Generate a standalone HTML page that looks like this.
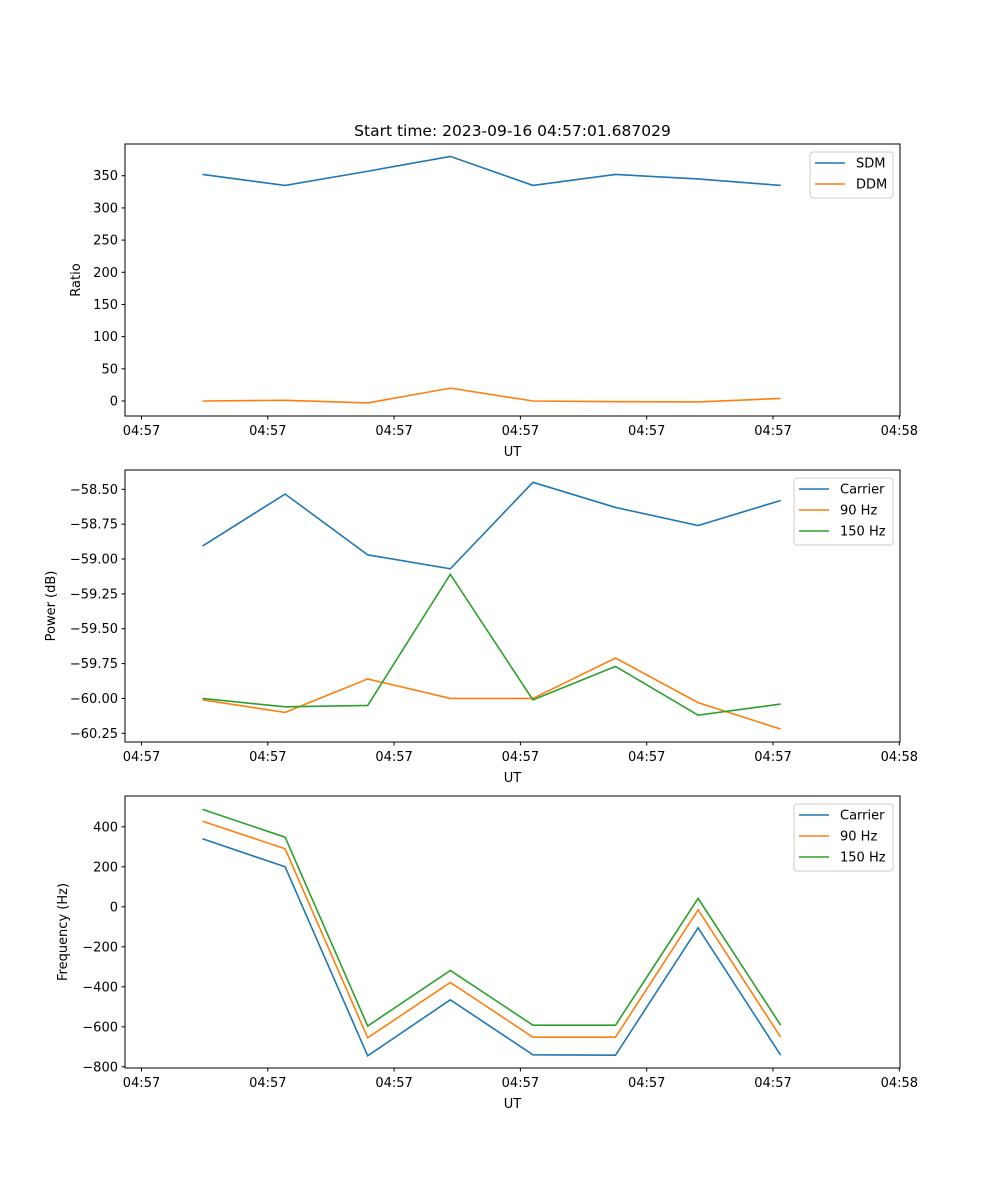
<!DOCTYPE html>
<html><head><meta charset="utf-8"><style>
body{margin:0;background:#fff;}
svg{display:block;font-family:"DejaVu Sans","Liberation Sans",sans-serif;}
</style></head><body>
<svg id="fig" width="1000" height="1200" xmlns="http://www.w3.org/2000/svg">
<rect width="1000" height="1200" fill="#fff"/>
<text x="512.5" y="136" font-size="15.5" text-anchor="middle">Start time: 2023-09-16 04:57:01.687029</text>
</svg>
<script>
const xTickLabels = ["04:57","04:57","04:57","04:57","04:57","04:57","04:58"];
const pointIndex = [0,1,2,3,4,5,6,7];
const sdm = [352,335,357,380,335,352,345,335];
const ddm = [0,1,-3,20,0,-1,-1.5,4];
const ratioTicks = [0,50,100,150,200,250,300,350];
const powCarrier = [-58.907,-58.534,-58.97,-59.07,-58.45,-58.63,-58.76,-58.58];
const pow90 = [-60.01,-60.10,-59.86,-60.0,-60.0,-59.71,-60.03,-60.22];
const pow150 = [-60.00,-60.06,-60.05,-59.11,-60.01,-59.77,-60.12,-60.04];
const powTicks = [-60.25,-60.0,-59.75,-59.5,-59.25,-59.0,-58.75,-58.5];
const freqCarrier = [340,200,-745,-465,-740,-742,-105,-742];
const freq90 = [428,290,-655,-378,-652,-652,-15,-652];
const freq150 = [487,348,-596,-318,-592,-592,42,-592];
const freqTicks = [-800,-600,-400,-200,0,200,400];

const NS="http://www.w3.org/2000/svg";
const svg=document.getElementById('fig');
function mk(tag,attrs,parent,text){const e=document.createElementNS(NS,tag);for(const k in attrs)e.setAttribute(k,attrs[k]);if(text!==undefined)e.textContent=text;(parent||svg).appendChild(e);return e;}
const L=125,R=900;
// x axis: point i at 202.5 + 82.6*i; ticks at 141.5 + 126.3*j
function xPt(i){return 202.5+82.6*i;}
function xTick(j){return 141.5+126.3*j;}
const C=["#1f77b4","#ff7f0e","#2ca02c"];

function panel(name,top,bottom,yFn,ticks,fmt,ylabel,series,names,legend){
  const g=mk('g',{},svg);
  
  
  series.forEach((s,k)=>{
    const pts=pointIndex.map(i=>xPt(i).toFixed(2)+','+yFn(s[i]).toFixed(2)).join(' ');
    const p=mk('polyline',{points:pts,fill:'none',stroke:C[k],'stroke-width':1.6},g);
    
    
  });
  const f=mk('rect',{x:L,y:top,width:R-L,height:bottom-top,fill:'none',stroke:'#000','stroke-width':1},g);
  
  
  ticks.forEach(t=>{
    const y=yFn(t);
    mk('line',{x1:L-3.5,x2:L,y1:y,y2:y,stroke:'#000'},g);
    const tx=mk('text',{x:L-7,y:y+4.5,'font-size':13,'text-anchor':'end'},g,fmt(t));
    
    
  });
  xTickLabels.forEach((lab,j)=>{
    const x=xTick(j);
    mk('line',{x1:x,x2:x,y1:bottom,y2:bottom+3.5},g);
    g.lastChild.setAttribute('stroke','#000');
    const tx=mk('text',{x:x,y:bottom+19,'font-size':13,'text-anchor':'middle'},g,lab);
    
    
  });
  const xl=mk('text',{x:512.5,y:bottom+40,'font-size':13,'text-anchor':'middle'},g,'UT');
  
  
  const cy=(top+bottom)/2;
  const yl=mk('text',{x:0,y:0,'font-size':13,'text-anchor':'middle',transform:`translate(${legend.ylx},${cy}) rotate(-90)`},g,ylabel);
  
  
  const lg=mk('g',{},g);
  
  
  mk('rect',{x:legend.x,y:top+8,width:R-7-legend.x,height:names.length*21+4,rx:3,fill:'#fff',stroke:'#ccc','fill-opacity':0.8},lg);
  names.forEach((n,k)=>{
    const yy=top+19+21*k;
    mk('line',{x1:legend.x+5,x2:legend.x+35,y1:yy,y2:yy,stroke:C[k],'stroke-width':1.6},lg);
    const t=mk('text',{x:legend.x+46,y:yy+4.5,'font-size':13},lg,n);
    
    
  });
}
const minus=s=>s.replace('-','\u2212');
panel('ratio-panel',144,416,v=>401-v*32.18/50,ratioTicks,t=>minus(String(t)),'Ratio',[sdm,ddm],['SDM','DDM'],{x:810,ylx:80});
panel('power-panel',470,742,v=>489.3-(v+58.5)/0.25*34.86,powTicks,t=>minus(t.toFixed(2)),'Power (dB)',[powCarrier,pow90,pow150],['Carrier','90 Hz','150 Hz'],{x:794,ylx:55});
panel('frequency-panel',796,1068,v=>906.8-v*0.2,freqTicks,t=>minus(String(t)),'Frequency (Hz)',[freqCarrier,freq90,freq150],['Carrier','90 Hz','150 Hz'],{x:794,ylx:67});
</script>
</body></html>
